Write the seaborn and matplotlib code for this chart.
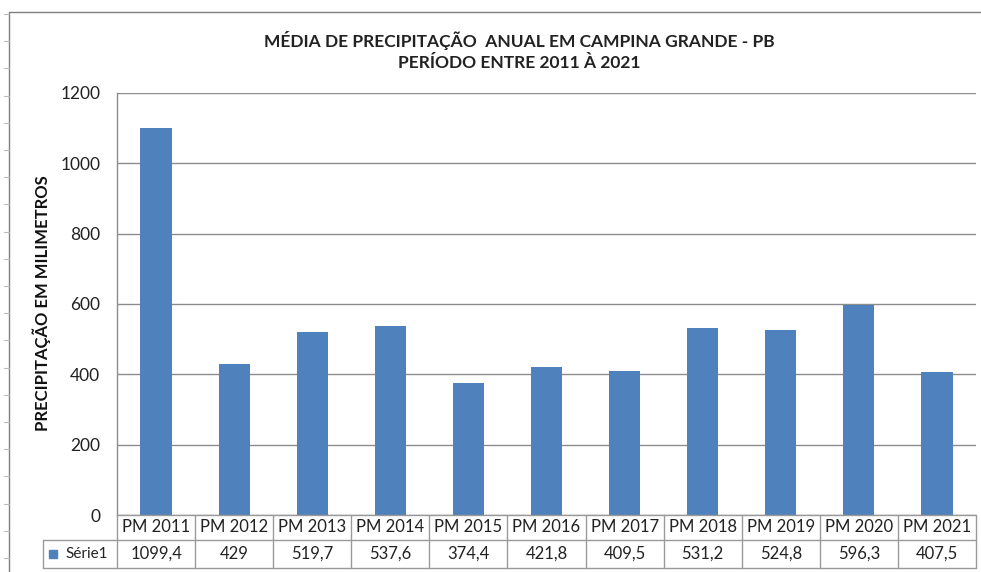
import matplotlib
matplotlib.use("Agg")
import matplotlib.pyplot as plt
import matplotlib.transforms as mtransforms
from matplotlib.lines import Line2D
from matplotlib.patches import Rectangle
import seaborn as sns
import pandas as pd

categories = ["PM 2011", "PM 2012", "PM 2013", "PM 2014", "PM 2015", "PM 2016",
              "PM 2017", "PM 2018", "PM 2019", "PM 2020", "PM 2021"]
values = [1099.4, 429, 519.7, 537.6, 374.4, 421.8, 409.5, 531.2, 524.8, 596.3, 407.5]
value_labels = ["1099,4", "429", "519,7", "537,6", "374,4", "421,8",
                "409,5", "531,2", "524,8", "596,3", "407,5"]
series_name = "Série1"
yticks = [0, 200, 400, 600, 800, 1000, 1200]
title = "MÉDIA DE PRECIPITAÇÃO  ANUAL EM CAMPINA GRANDE - PB\nPERÍODO ENTRE 2011 À 2021"
ylabel = "PRECIPITAÇÃO EM MILIMETROS"

sns.set_theme(style="white")
plt.rcParams['font.family'] = ['Lato', 'DejaVu Sans']

W, H = 981, 572
fig = plt.figure(figsize=(W / 100, H / 100), dpi=100)
L, R, T, B = 117, 976, 93, 515
ax = fig.add_axes([L / W, 1 - B / H, (R - L) / W, (B - T) / H])

df = pd.DataFrame({"cat": categories, "val": values})
bar_color = "#4F81BD"
sns.barplot(data=df, x="cat", y="val", ax=ax, color=bar_color, width=0.4,
            saturation=1, edgecolor="none")

ax.set_ylim(0, 1200)
ax.set_xlim(-0.5, len(categories) - 0.5)
ax.set_yticks(yticks)
ax.set_yticklabels([str(t) for t in yticks], fontsize=12.5, color="#222222")
ax.tick_params(axis="y", length=0, pad=12)
ax.set_xticks([])
ax.set_xlabel("")
ax.set_ylabel("")
ax.yaxis.grid(True, color="#8c8c8c", linewidth=1.0)
ax.set_axisbelow(True)
for s in ["top", "right", "bottom"]:
    ax.spines[s].set_visible(False)
ax.spines["left"].set_color("#8c8c8c")
ax.spines["left"].set_linewidth(1.0)

# data table below axis
gray = "#9a9a9a"
ax_h = B - T
def fy(py):  # pixel y -> axes fraction
    return (B - py) / ax_h
trans = mtransforms.blended_transform_factory(ax.transData, ax.transAxes)
r1, r2 = fy(540), fy(568)
n = len(categories)
for i, (c, v) in enumerate(zip(categories, value_labels)):
    ax.text(i, (0 + r1) / 2, c, transform=trans, ha="center", va="center",
            fontsize=12, color="#222222", clip_on=False)
    ax.text(i, (r1 + r2) / 2, v, transform=trans, ha="center", va="center",
            fontsize=12, color="#222222", clip_on=False)
# vertical lines
for b in [i - 0.5 for i in range(n + 1)]:
    ax.add_line(Line2D([b, b], [0, r2], transform=trans, color=gray, lw=1.0, clip_on=False))
# horizontal lines in table
fig_line_x0 = 43 / W
for py in [515, 540, 568]:
    x0 = L / W if py == 515 else fig_line_x0
    fig.add_artist(Line2D([x0, R / W], [1 - py / H, 1 - py / H], color=gray, lw=1.0))
fig.add_artist(Line2D([43 / W, 43 / W], [1 - 540 / H, 1 - 568 / H], color=gray, lw=1.0))
# legend key in table
fig.add_artist(Rectangle((49 / W, 1 - 558 / H), 8 / W, 8 / H, color=bar_color))
fig.text(87 / W, 1 - 554 / H, series_name, ha="center", va="center", fontsize=11,
         color="#222222")

# title and y label
fig.text(519 / W, 1 - 51 / H, title, ha="center", va="center", fontsize=12.5,
         fontweight="bold", color="#222222", linespacing=1.35)
fig.text(42 / W, 1 - 303 / H, ylabel, ha="center", va="center", rotation=90,
         fontsize=12, fontweight="bold", color="#111111")

# outer frame
fig.add_artist(Line2D([9 / W, 1], [1 - 12 / H, 1 - 12 / H], color="#7f7f7f", lw=1.0))
fig.add_artist(Line2D([9 / W, 9 / W], [1 - 12 / H, 0], color="#7f7f7f", lw=1.0))
y = 14
while y < H:
    fig.add_artist(Line2D([4 / W, 9 / W], [1 - y / H, 1 - y / H], color="#bbbbbb", lw=0.8))
    y += 27.2

fig.savefig("out.png", dpi=100)
